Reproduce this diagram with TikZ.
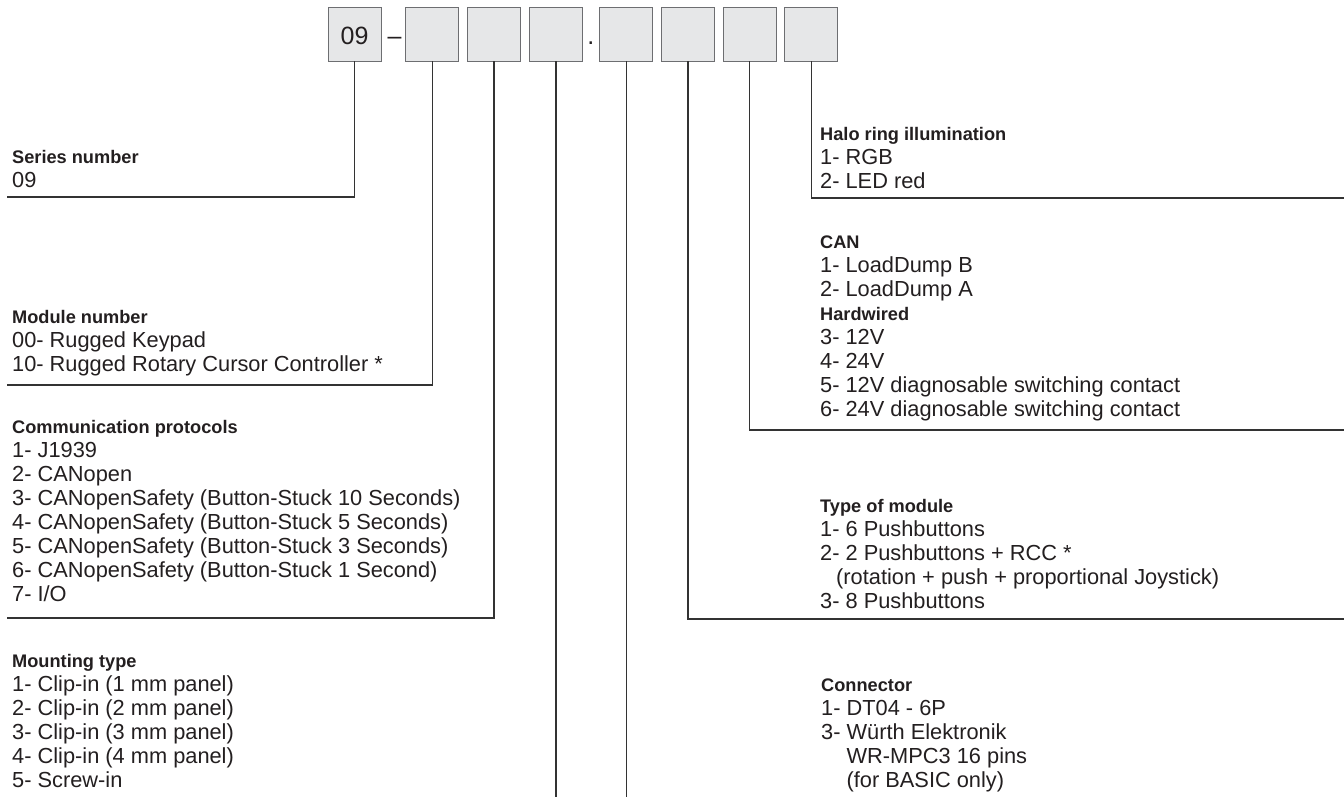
\documentclass[tikz,border=0pt]{standalone}
\usepackage{fontspec}
\setmainfont{Liberation Sans}
\usetikzlibrary{positioning}
\usepackage{xcolor}
\definecolor{ink}{HTML}{231F20}
\definecolor{wirecol}{HTML}{333333}
\definecolor{cell}{HTML}{E6E7E8}
\definecolor{rim}{HTML}{6D6E71}
\newcommand{\hd}[1]{{\fontsize{18.2}{24}\selectfont\bfseries #1}}
\newcommand{\entries}[1]{\begin{tabular}[t]{@{}l@{}}#1\end{tabular}}

\begin{document}
\begin{tikzpicture}[
x=1pt, y=-1pt,
node distance=7.8pt,
digit/.style={draw=rim,
fill=cell,
line width=0.9pt,
minimum width=53pt,
minimum height=54pt,
inner sep=0pt,
text height=20pt,
text depth=0pt,
font=\fontsize{25}{28}\selectfont,
text=ink},
sep/.style={inner sep=0pt, font=\fontsize{25}{28}\selectfont, text=ink},
legend/.style={anchor=base west, inner sep=0pt, font=\fontsize{21.8}{24}\selectfont, text=ink},
leader/.style={draw=wirecol, line width=1.4pt}
]

\useasboundingbox[fill=white] (0,0) rectangle (1344,796);

% code boxes
\node[digit] (b1) at (354.5,34) {09};
\node[sep, base right=6pt of b1] (dash) {--};
\node[digit, right=24pt of b1] (b2) {};
\node[digit, right=of b2] (b3) {};
\node[digit, right=of b3] (b4) {};
\node[sep, base right=4.4pt of b4] (dot) {.};
\node[digit, right=16.5pt of b4] (b5) {};
\node[digit, right=of b5] (b6) {};
\node[digit, right=of b6] (b7) {};
\node[digit, right=of b7] (b8) {};

% legends
\node[legend] (series) at (12,163) {\entries{\hd{Series number}\\ 09}};
\node[legend] (module) at (12,323) {\entries{\hd{Module number}\\ 00- Rugged Keypad\\ 10- Rugged Rotary Cursor Controller *}};
\node[legend] (comm) at (12,433) {\entries{\hd{Communication protocols}\\ 1- J1939\\ 2- CANopen\\ 3- CANopenSafety (Button-Stuck 10 Seconds)\\ 4- CANopenSafety (Button-Stuck 5 Seconds)\\ 5- CANopenSafety (Button-Stuck 3 Seconds)\\ 6- CANopenSafety (Button-Stuck 1 Second)\\ 7- I/O}};
\node[legend] (mount) at (12,667) {\entries{\hd{Mounting type}\\ 1- Clip-in (1 mm panel)\\ 2- Clip-in (2 mm panel)\\ 3- Clip-in (3 mm panel)\\ 4- Clip-in (4 mm panel)\\ 5- Screw-in}};
\node[legend] (halo) at (820,140) {\entries{\hd{Halo ring illumination}\\ 1- RGB\\ 2- LED red}};
\node[legend] (can) at (820,248) {\entries{\hd{CAN}\\ 1- LoadDump B\\ 2- LoadDump A\\ \hd{Hardwired}\\ 3- 12V\\ 4- 24V\\ 5- 12V diagnosable switching contact\\ 6- 24V diagnosable switching contact}};
\node[legend] (type) at (820,512) {\entries{\hd{Type of module}\\ 1- 6 Pushbuttons\\ 2- 2 Pushbuttons + RCC *\\ \hspace*{16pt}(rotation + push + proportional Joystick)\\ 3- 8 Pushbuttons}};
\node[legend] (conn) at (821,691) {\entries{\hd{Connector}\\ 1- DT04 - 6P\\ 3- Würth Elektronik\\ \phantom{3- }WR-MPC3 16 pins\\ \phantom{3- }(for BASIC only)}};

% line ends
\coordinate (seriesend) at (7,197);
\coordinate (moduleend) at (7,385);
\coordinate (commend) at (7,618);
\coordinate (floor) at (0,800);
\coordinate (typeend) at (1344,619);
\coordinate (canend) at (1344,430);
\coordinate (haloend) at (1344,198);

\draw[leader] (b1.south) |- (seriesend);
\draw[leader] (b2.south) |- (moduleend);
\draw[leader] (b3.south) |- (commend);
\draw[leader] (b4.south) -- (b4.south |- floor);
\draw[leader] (b5.south) -- (b5.south |- floor);
\draw[leader] (b6.south) |- (typeend);
\draw[leader] (b7.south) |- (canend);
\draw[leader] (b8.south) |- (haloend);

\end{tikzpicture}
\end{document}
